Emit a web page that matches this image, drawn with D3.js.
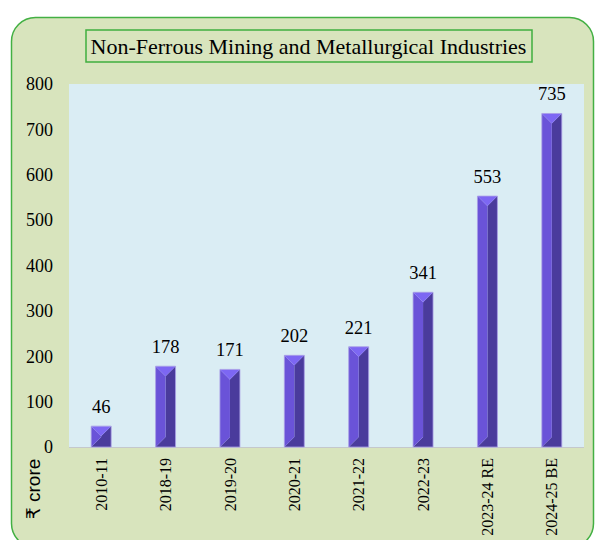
<!DOCTYPE html>
<html>
<head>
<meta charset="utf-8">
<script src="https://cdn.jsdelivr.net/npm/d3@7"></script>
<style>
  body { margin: 0; background: #fff; }
  svg { display: block; }
  .serif { font-family: "Liberation Serif", "Times New Roman", Times, "DejaVu Serif", serif; }
  .sans { font-family: "Liberation Sans", Arial, "DejaVu Sans", sans-serif; }
</style>
</head>
<body>
<div id="chart"></div>
<script>
// values
const years = ["2010-11", "2018-19", "2019-20", "2020-21", "2021-22", "2022-23", "2023-24 RE", "2024-25 BE"];
const amounts = [46, 178, 171, 202, 221, 341, 553, 735];
const yTicks = [0, 100, 200, 300, 400, 500, 600, 700, 800];
const chartTitle = "Non-Ferrous Mining and Metallurgical Industries";
const unitLabel = "₹ crore";

const W = 595, H = 540;
const plot = {left: 69, right: 584, top: 84, bottom: 447};

const svg = d3.select("#chart").append("svg")
    .attr("width", W)
    .attr("height", H);

// outer rounded frame
svg.append("rect")
    .attr("x", 11.5).attr("y", 17.5)
    .attr("width", 582).attr("height", 530)
    .attr("rx", 24)
    .attr("fill", "#d8e4bd")
    .attr("stroke", "#43b043")
    .attr("stroke-width", 1.5);

// plot background
svg.append("rect")
    .attr("x", plot.left).attr("y", plot.top)
    .attr("width", plot.right - plot.left)
    .attr("height", plot.bottom - plot.top)
    .attr("fill", "#daedf4");

const x = d3.scaleBand()
    .domain(years)
    .range([plot.left, plot.right])
    .paddingInner(0.69)
    .paddingOuter(0.345);

const y = d3.scaleLinear()
    .domain([0, 800])
    .range([plot.bottom, plot.top]);

// baseline
svg.append("line")
    .attr("x1", plot.left).attr("x2", plot.right)
    .attr("y1", plot.bottom + 0.5).attr("y2", plot.bottom + 0.5)
    .attr("stroke", "#c4c8cc");

// y axis labels
const yAxis = svg.append("g")
    .attr("transform", `translate(${plot.left},0)`)
    .call(d3.axisLeft(y).tickValues(yTicks).tickSize(0).tickPadding(16));
yAxis.select(".domain").remove();
yAxis.attr("font-family", null).attr("font-size", null);
yAxis.selectAll("text")
    .attr("class", "serif")
    .style("font-size", "18px")
    .attr("fill", "#000");

// x axis labels (rotated)
const xAxis = svg.append("g")
    .attr("transform", `translate(0,${plot.bottom})`)
    .call(d3.axisBottom(x).tickSize(0).tickPadding(0));
xAxis.select(".domain").remove();
xAxis.attr("font-family", null).attr("font-size", null);
xAxis.selectAll("text")
    .attr("class", "serif")
    .style("font-size", "16px")
    .attr("fill", "#000")
    .attr("text-anchor", "end")
    .attr("dy", "0.35em")
    .attr("transform", "translate(0,11) rotate(-90)")
    .attr("x", 0).attr("y", 0);

// beveled bars
const bars = svg.append("g").selectAll("g")
    .data(years.map((d, i) => ({year: d, value: amounts[i]})))
    .join("g");

function facePaths(d) {
    const x0 = x(d.year), x1 = x0 + x.bandwidth(), cx = (x0 + x1) / 2;
    const top = y(d.value), bot = y(0);
    const h = Math.min(x.bandwidth() / 2, (bot - top) / 2);
    return {
        top: `M${x0},${top}L${x1},${top}L${cx},${top + h}Z`,
        left: `M${x0},${top}L${cx},${top + h}L${cx},${bot - h}L${x0},${bot}Z`,
        right: `M${x1},${top}L${cx},${top + h}L${cx},${bot - h}L${x0},${bot}L${x1},${bot}Z`,
        outline: `M${x0},${top}H${x1}V${bot}H${x0}Z`
    };
}

bars.append("path").attr("d", d => facePaths(d).right).attr("fill", "#4a3b9c");
bars.append("path").attr("d", d => facePaths(d).left).attr("fill", "#6a53d8");
bars.append("path").attr("d", d => facePaths(d).top).attr("fill", "#7d67f3");
bars.append("path").attr("d", d => facePaths(d).outline)
    .attr("fill", "none")
    .attr("stroke", "#a99ee6")
    .attr("stroke-width", 0.8);

// value labels
bars.append("text")
    .attr("class", "serif")
    .attr("x", d => x(d.year) + x.bandwidth() / 2)
    .attr("y", d => y(d.value) - 13)
    .attr("text-anchor", "middle")
    .style("font-size", "18.5px")
    .text(d => d.value);

// title box
const titleG = svg.append("g");
titleG.append("rect")
    .attr("x", 86).attr("y", 30)
    .attr("width", 446).attr("height", 32)
    .attr("fill", "none")
    .attr("stroke", "#3fae3f")
    .attr("stroke-width", 1.5);
titleG.append("text")
    .attr("class", "serif")
    .attr("x", 308.5).attr("y", 54)
    .attr("text-anchor", "middle")
    .style("font-size", "22px")
    .text(chartTitle);

// unit label
svg.append("text")
    .attr("class", "sans")
    .attr("transform", "translate(40,489) rotate(-90)")
    .attr("text-anchor", "middle")
    .style("font-size", "19px")
    .text(unitLabel);
</script>
</body>
</html>
